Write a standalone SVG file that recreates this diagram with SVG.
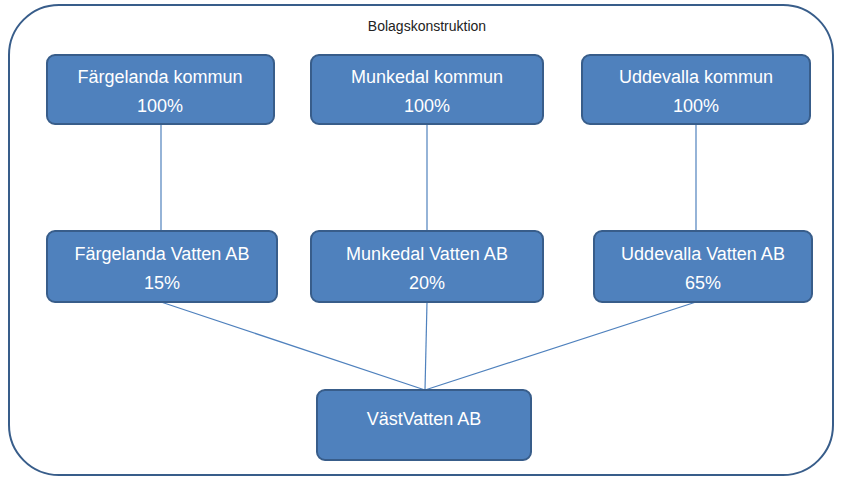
<svg xmlns="http://www.w3.org/2000/svg" width="842" height="484" viewBox="0 0 842 484">
<style>
.n{fill:#4f81bd;stroke:#385d8a;stroke-width:2}
.t{fill:#fff;font-family:"Liberation Sans",Arial,sans-serif;font-size:18px;text-anchor:middle}
.c{stroke:#4f81bd;stroke-width:1.2;fill:none}
</style>
<rect width="842" height="484" fill="#fff"/>
<rect x="9" y="5" width="824" height="470" rx="50" fill="#fff" stroke="#385d8a" stroke-width="2"/>
<text x="427" y="31" font-family="'Liberation Sans',Arial,sans-serif" font-size="14" text-anchor="middle" fill="#222">Bolagskonstruktion</text>
<g id="connectors">
<line class="c" x1="161" y1="124" x2="161" y2="231"/>
<line class="c" x1="427" y1="124" x2="427" y2="231"/>
<line class="c" x1="696" y1="124" x2="696" y2="231"/>
<line class="c" x1="161" y1="302" x2="425" y2="390"/>
<line class="c" x1="427" y1="302" x2="425" y2="390"/>
<line class="c" x1="696" y1="302" x2="425" y2="390"/>
</g>
<g id="n1"><rect class="n" x="47" y="55" width="227" height="69" rx="8"/><text class="t" x="160" y="83">Färgelanda kommun</text><text class="t" x="160" y="112">100%</text></g>
<g id="n2"><rect class="n" x="311" y="55" width="232" height="69" rx="8"/><text class="t" x="427" y="83">Munkedal kommun</text><text class="t" x="427" y="112">100%</text></g>
<g id="n3"><rect class="n" x="582" y="55" width="228" height="69" rx="8"/><text class="t" x="696" y="83">Uddevalla kommun</text><text class="t" x="696" y="112">100%</text></g>
<g id="n4"><rect class="n" x="47" y="231" width="230" height="71" rx="8"/><text class="t" x="162" y="260">Färgelanda Vatten AB</text><text class="t" x="162" y="289">15%</text></g>
<g id="n5"><rect class="n" x="311" y="231" width="232" height="71" rx="8"/><text class="t" x="427" y="260">Munkedal Vatten AB</text><text class="t" x="427" y="289">20%</text></g>
<g id="n6"><rect class="n" x="594" y="231" width="218" height="71" rx="8"/><text class="t" x="703" y="260">Uddevalla Vatten AB</text><text class="t" x="703" y="289">65%</text></g>
<g id="n7"><rect class="n" x="317" y="390" width="214" height="70" rx="8"/><text class="t" x="424" y="425">VästVatten AB</text></g>
</svg>
